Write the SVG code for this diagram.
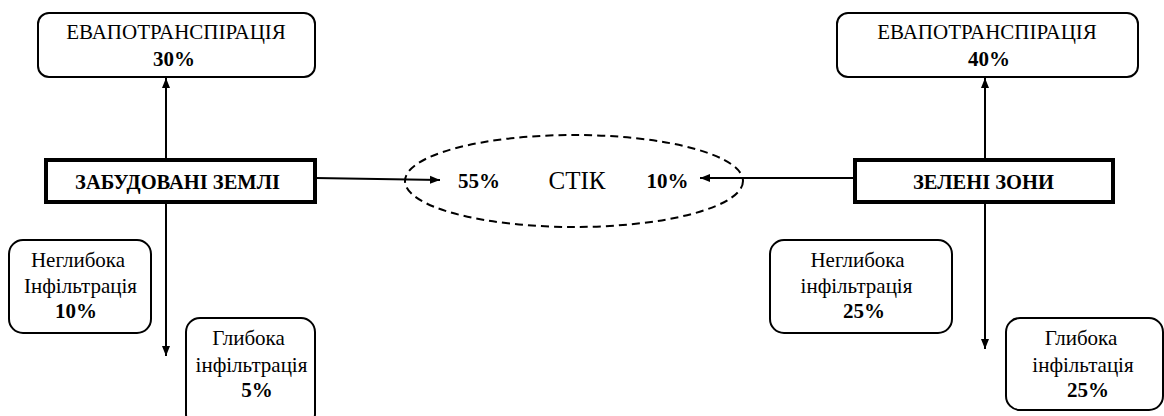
<svg xmlns="http://www.w3.org/2000/svg" width="1164" height="416" viewBox="0 0 1164 416">
<defs>
<marker id="ah" viewBox="0 0 10 10" refX="10" refY="5" markerWidth="10" markerHeight="10" markerUnits="userSpaceOnUse" orient="auto">
<path d="M0,1 L10,5 L0,9 Z" fill="#000"/>
</marker>
<style>
.box{fill:#fff;stroke:#000;stroke-width:2}
.main{fill:#fff;stroke:#000;stroke-width:4}
.t{font-family:"Liberation Serif","Times New Roman",serif;font-size:21px;fill:#000;text-anchor:middle}
.b{font-family:"Liberation Serif","Times New Roman",serif;font-size:21px;font-weight:bold;fill:#000;text-anchor:middle}
.c{stroke:#000;stroke-width:2;fill:none;marker-end:url(#ah)}
</style>
</defs>
<rect width="1164" height="416" fill="#fff"/>
<g id="connectors">
<line class="c" x1="166" y1="160" x2="166" y2="78"/>
<line class="c" x1="166" y1="202" x2="166" y2="356"/>
<line class="c" x1="315" y1="178" x2="440" y2="180"/>
<line class="c" x1="985" y1="158" x2="985" y2="78"/>
<line class="c" x1="985" y1="202" x2="985" y2="349"/>
<line class="c" x1="855" y1="178" x2="700" y2="178"/>
</g>
<g id="et-left">
<rect class="box" x="38" y="13" width="277" height="64" rx="11"/>
<text class="t" x="176" y="39">ЕВАПОТРАНСПІРАЦІЯ</text>
<text class="b" x="174" y="66">30%</text>
</g>
<g id="zab">
<rect class="main" x="46" y="160" width="269" height="42"/>
<text class="b" x="177.5" y="189" style="font-size:20.5px">ЗАБУДОВАНІ ЗЕМЛІ</text>
</g>
<g id="stik">
<ellipse cx="574" cy="181" rx="169" ry="46" fill="none" stroke="#000" stroke-width="2" stroke-dasharray="8,5"/>
<text class="b" x="479" y="188">55%</text>
<text class="t" x="577" y="189" style="font-size:25px">СТІК</text>
<text class="b" x="667.5" y="188">10%</text>
</g>
<g id="ngl-left">
<rect class="box" x="9" y="240" width="142" height="93" rx="14"/>
<text class="t" x="78" y="267">Неглибока</text>
<text class="t" x="80.5" y="293">Інфільтрація</text>
<text class="b" x="76" y="318">10%</text>
</g>
<g id="gl-left">
<rect class="box" x="186" y="318" width="129" height="110" rx="14"/>
<text class="t" x="248.5" y="345">Глибока</text>
<text class="t" x="251.5" y="372">інфільтрація</text>
<text class="b" x="257" y="397">5%</text>
</g>
<g id="zel">
<rect class="main" x="855" y="160" width="258" height="42"/>
<text class="b" x="983.5" y="189" style="font-size:20.5px">ЗЕЛЕНІ ЗОНИ</text>
</g>
<g id="et-right">
<rect class="box" x="837" y="13" width="301" height="64" rx="11"/>
<text class="t" x="987" y="39">ЕВАПОТРАНСПІРАЦІЯ</text>
<text class="b" x="989" y="66">40%</text>
</g>
<g id="ngl-right">
<rect class="box" x="770" y="240" width="182" height="93" rx="14"/>
<text class="t" x="857.5" y="267">Неглибока</text>
<text class="t" x="856.5" y="293">інфільтрація</text>
<text class="b" x="864" y="318">25%</text>
</g>
<g id="gl-right">
<rect class="box" x="1006" y="318" width="157" height="92" rx="14"/>
<text class="t" x="1081" y="345">Глибока</text>
<text class="t" x="1083" y="372">інфільтація</text>
<text class="b" x="1088" y="397">25%</text>
</g>
</svg>
